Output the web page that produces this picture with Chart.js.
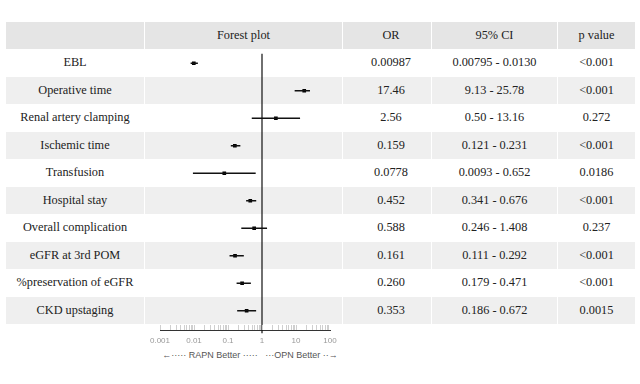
<!DOCTYPE html>
<html>
<head>
<meta charset="utf-8">
<script src="https://cdn.jsdelivr.net/npm/chart.js@4.4.1/dist/chart.umd.min.js"></script>
<style>
  body { margin: 0; background: #fff; width: 640px; height: 384px; overflow: hidden; position: relative; }
  .cell { position: absolute; box-sizing: border-box; display: flex; align-items: center; justify-content: center;
          font-family: "Liberation Serif", "Times New Roman", serif; font-size: 12.3px; color: #222;
          border-right: 1px solid #fff; border-bottom: 1px solid #fff; }
  #note { position: absolute; left: 150px; width: 200px; top: 350px; text-align: center;
          font-family: "Liberation Sans", Arial, sans-serif; font-size: 9px; color: #555; white-space: nowrap; }
  canvas { position: absolute; left: 0; top: 0; pointer-events: none; }
</style>
</head>
<body>
<div id="table"></div>
<div id="note">←····· RAPN Better ·····&nbsp;&nbsp; ···OPN Better ··→</div>
<canvas id="forest" width="640" height="384"></canvas>
<script>
const headers = ['', 'Forest plot', 'OR', '95% CI', 'p value'];
const outcomes = ['EBL', 'Operative time', 'Renal artery clamping', 'Ischemic time', 'Transfusion',
  'Hospital stay', 'Overall complication', 'eGFR at 3rd POM', '%preservation of eGFR', 'CKD upstaging'];
const orText = ['0.00987', '17.46', '2.56', '0.159', '0.0778', '0.452', '0.588', '0.161', '0.260', '0.353'];
const ciText = ['0.00795 - 0.0130', '9.13 - 25.78', '0.50 - 13.16', '0.121 - 0.231', '0.0093 - 0.652',
  '0.341 - 0.676', '0.246 - 1.408', '0.111 - 0.292', '0.179 - 0.471', '0.186 - 0.672'];
const pValues = ['<0.001', '<0.001', '0.272', '<0.001', '0.0186', '<0.001', '0.237', '<0.001', '<0.001', '0.0015'];
const tickLabels = [0.001, 0.01, 0.1, 1, 10, 100];

const orValues = orText.map(Number);
const ciLow = ciText.map(s => Number(s.split(' - ')[0]));
const ciHigh = ciText.map(s => Number(s.split(' - ')[1]));

// table layout
const colX = [6, 145, 343, 432, 558, 636];
const top0 = 22, rowH = 27.5;
const table = document.getElementById('table');

function addCell(col, row, text, bg, extra) {
  const d = document.createElement('div');
  d.className = 'cell';
  d.style.left = colX[col] + 'px';
  d.style.width = (colX[col + 1] - colX[col]) + 'px';
  d.style.top = (top0 + row * rowH) + 'px';
  d.style.height = rowH + 'px';
  d.style.background = bg;
  if (extra) d.style.paddingLeft = extra;
  d.textContent = text;
  table.appendChild(d);
}

headers.forEach((h, c) => addCell(c, 0, h, '#e5e5e5', c === 2 ? '8px' : ''));
outcomes.forEach((name, i) => {
  const bg = i % 2 === 0 ? '#ffffff' : '#efefef';
  addCell(0, i + 1, name, bg);
  addCell(1, i + 1, '', bg);
  addCell(2, i + 1, orText[i], bg, '8px');
  addCell(3, i + 1, ciText[i], bg);
  addCell(4, i + 1, pValues[i], bg);
});

// minor tick marks above the axis line
const minorTicks = {
  id: 'minorTicks',
  afterDraw(chart) {
    const x = chart.scales.x;
    const ctx = chart.ctx;
    const y0 = chart.chartArea.bottom;
    ctx.save();
    ctx.strokeStyle = '#cfcfcf';
    ctx.lineWidth = 1;
    for (let e = -3; e < 2; e++) {
      for (let m = 1; m < 10; m++) {
        const px = Math.round(x.getPixelForValue(m * Math.pow(10, e))) + 0.5;
        ctx.beginPath();
        ctx.moveTo(px, y0 - 5);
        ctx.lineTo(px, y0);
        ctx.stroke();
      }
    }
    ctx.restore();
  }
};

const ciSets = outcomes.map((name, i) => ({
  type: 'line',
  label: name,
  data: [{ x: ciLow[i], y: i }, { x: ciHigh[i], y: i }],
  borderColor: '#111',
  borderWidth: 1.3,
  pointRadius: 0,
  showLine: true
}));

new Chart(document.getElementById('forest').getContext('2d'), {
  type: 'scatter',
  data: {
    datasets: [
      {
        type: 'line',
        label: 'ref',
        data: [{ x: 1, y: -0.35 }, { x: 1, y: 9.82 }],
        borderColor: '#111',
        borderWidth: 1.2,
        pointRadius: 0,
        clip: false
      },
      ...ciSets,
      {
        label: 'OR',
        data: orValues.map((v, i) => ({ x: v, y: i })),
        pointStyle: 'rect',
        pointRadius: 2.6,
        backgroundColor: '#000',
        borderColor: '#000',
        borderWidth: 0
      }
    ]
  },
  options: {
    responsive: false,
    animation: false,
    layout: { padding: { left: 160, right: 310, top: 49.5, bottom: 34 } },
    plugins: { legend: { display: false }, tooltip: { enabled: false } },
    scales: {
      x: {
        type: 'logarithmic',
        min: 0.001,
        max: 100,
        afterBuildTicks: s => { s.ticks = tickLabels.map(v => ({ value: v })); },
        afterFit: s => { s.height = 20; },
        ticks: {
          callback: v => String(v),
          color: '#999',
          padding: 6,
          font: { family: 'Liberation Sans', size: 8 },
          maxRotation: 0,
          autoSkip: false
        },
        grid: { display: false, drawTicks: false },
        border: { display: true, color: '#333', width: 1 }
      },
      y: { type: 'linear', min: -0.5, max: 9.7, reverse: true, display: false }
    }
  },
  plugins: [minorTicks]
});
</script>
</body>
</html>
